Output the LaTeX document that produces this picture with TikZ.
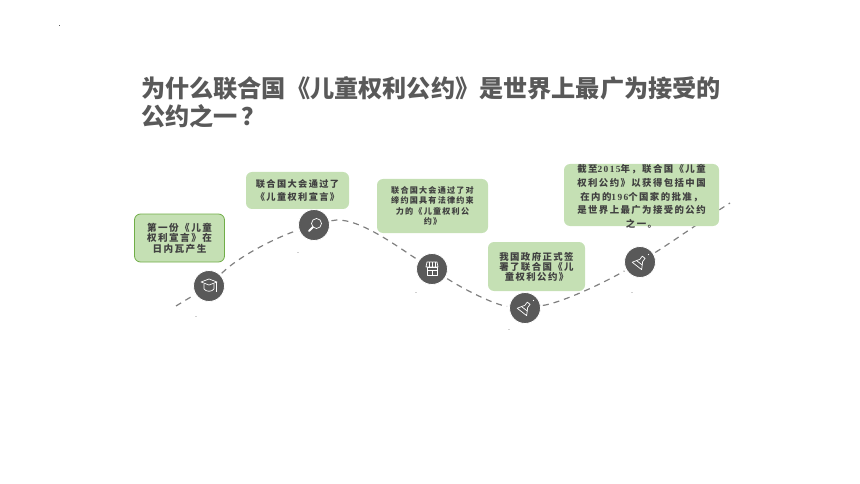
\documentclass[tikz,border=0pt]{standalone}
\usepackage{fontspec}
\setmainfont{Noto Sans CJK SC}
\newfontfamily\boxfont[LetterSpace=15]{Noto Sans CJK SC}
\newfontfamily\numfont[LetterSpace=15]{Liberation Serif}
\definecolor{boxgreen}{RGB}{197,224,180}
\definecolor{boxedge}{RGB}{112,173,71}
\definecolor{darktext}{RGB}{64,64,64}
\definecolor{titlegray}{RGB}{89,89,89}
\definecolor{dotgray}{RGB}{89,89,89}
\tikzset{
  callout/.style={fill=boxgreen,rounded corners=6pt,inner sep=0pt},
  calltext/.style 2 args={text=darktext,align=center,inner sep=0pt,
    font=\boxfont\bfseries\fontsize{#1}{#2}\selectfont},
  stop/.style={circle,fill=dotgray,draw=white,line width=.8pt,minimum size=31pt,
    inner sep=0pt,outer sep=2.5pt},
  route/.style={dash pattern=on 6pt off 5pt,draw=gray,line width=1.2pt},
  icon/.style={draw=white,line width=.7pt,line join=round},
  speck/.style={fill=black!18},
  pics/capicon/.style={code={
    \draw[icon] (-8,-4) -- (0,-7) -- (8,-4) -- (0,-1) -- cycle;
    \draw[icon] (-5,-2) -- (-5,3) .. controls (-3,6) and (3,6) .. (5,3) -- (5,-2);
    \draw[icon] (7,-4) -- (7,6);
  }},
  pics/lensicon/.style={code={
    \draw[icon] (2.5,-1.5) circle (5);
    \draw[icon,line width=1.8pt,line cap=round] (-1,2) -- (-5,6);
  }},
  pics/shopicon/.style={code={
    \draw[icon] (-6,-2) -- (-5,-7) -- (5,-7) -- (6,-2) -- cycle;
    \foreach \s in {-3,0,3} \draw[icon] (\s,-7) -- (\s,-2);
    \draw[icon] (-5,-2) rectangle (5,6);
    \draw[icon] (-5,1) -- (5,1);
    \draw[icon] (0,1) -- (0,6);
  }},
  pics/flaskicon/.style={code={
    \begin{scope}[rotate=-38]
      \draw[icon] (-1.8,-6) -- (-1.8,-2) -- (-6,5) -- (6,5) -- (1.8,-2) -- (1.8,-6) -- cycle;
      \draw[icon] (-3.8,1) -- (3.8,1);
    \end{scope}
    \fill[white] (8.5,-7.5) circle (.7);
  }},
}
\begin{document}
\begin{tikzpicture}[x=1pt,y=-1pt]
  \useasboundingbox (0,0) rectangle (860,484);

  \node[anchor=north west,inner sep=0pt,align=left,text=titlegray,
    font=\bfseries\fontsize{24.15}{28}\selectfont] (title) at (141,76)
    {为什么联合国《儿童权利公约》是世界上最广为接受的\\公约之一\hspace{4pt}？};

  \coordinate (start) at (176,306);
  \coordinate (finish) at (730,203);
  \node[stop] (stopa) at (209,286) {};
  \node[stop] (stopb) at (314,225) {};
  \node[stop] (stopc) at (432,269) {};
  \node[stop] (stopd) at (525,308) {};
  \node[stop] (stope) at (640,262) {};

  \draw[route] (start) -- (stopa);
  \draw[route] (stopa) .. controls (240,255) and (280,236) .. (stopb);
  \draw[route] (stopb) .. controls (355,215) and (395,245) .. (stopc);
  \draw[route] (stopc) .. controls (465,290) and (495,305) .. (stopd);
  \draw[route] (stopd) .. controls (560,303) and (600,285) .. (stope);
  \draw[route] (stope) .. controls (672,242) and (700,222) .. (finish);

  \pic at (stopa) {capicon};
  \pic at (stopb) {lensicon};
  \pic at (stopc) {shopicon};
  \pic at (stopd) {flaskicon};
  \pic at (stope) {flaskicon};

  \node[callout,draw=boxedge,line width=.8pt,minimum width=90pt,minimum height=48pt] (boxa) at (179.5,238) {};
  \node[calltext={9.6}{10.5}] (texta) at (boxa)
    {第一份《儿童\\权利宣言》在\\日内瓦产生};

  \node[callout,minimum width=103pt,minimum height=37pt] (boxb) at (297.5,190.5) {};
  \node[calltext={9.2}{12.5}] (textb) at (boxb)
    {联合国大会通过了\\《儿童权利宣言》};

  \node[callout,minimum width=111pt,minimum height=54pt] (boxc) at (432.5,206) {};
  \node[calltext={8.1}{10.5}] (textc) at (boxc)
    {联合国大会通过了对\\缔约国具有法律约束\\力的《儿童权利公\\约》};

  \node[callout,minimum width=97pt,minimum height=49pt] (boxd) at (536.5,266.5) {};
  \node[calltext={9.4}{10}] (textd) at (boxd)
    {我国政府正式签\\署了联合国《儿\\童权利公约》};

  \node[callout,minimum width=155pt,minimum height=62pt] (boxe) at (641.5,195) {};
  \node[calltext={9.4}{13.8}] (texte) at (641.5,196.5)
    {截至{\numfont 2015}年，联合国《儿童\\权利公约》以获得包括中国\\在内的{\numfont 196}个国家的批准，\\是世界上最广为接受的公约\\之一。};

  % faint marks under the stops
  \foreach \x/\y in {195/316,297/252,415/292,508/329,631/292}
    \fill[speck] (\x,\y) rectangle +(2,.8);
  \fill[dotgray] (59,25) rectangle +(.8,1.5);
\end{tikzpicture}
\end{document}
